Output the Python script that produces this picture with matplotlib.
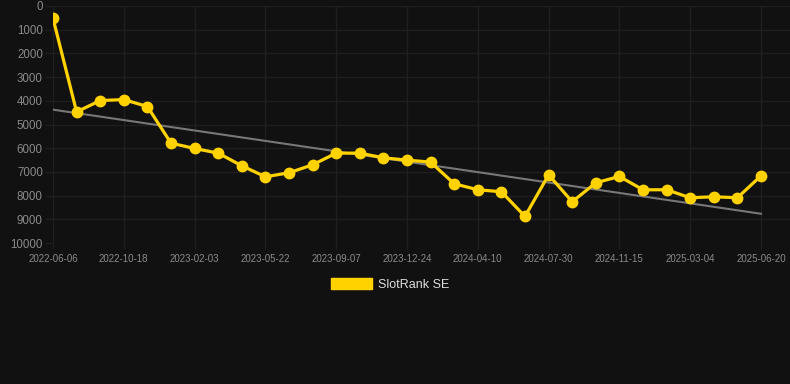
import numpy as np
import matplotlib
matplotlib.use("Agg")
import matplotlib.pyplot as plt
from matplotlib.patches import Patch

plt.rcParams['font.family'] = ['Liberation Sans', 'DejaVu Sans']

tick_labels = ["2022-06-06", "2022-10-18", "2023-02-03", "2023-05-22", "2023-09-07",
               "2023-12-24", "2024-04-10", "2024-07-30", "2024-11-15", "2025-03-04",
               "2025-06-20"]
ranks = [520, 4467, 3990, 3948, 4243, 5786, 6012, 6208, 6742, 7206,
         7037, 6700, 6208, 6208, 6405, 6503, 6587, 7501, 7754, 7838,
         8879, 7122, 8260, 7459, 7192, 7754, 7754, 8091, 8049, 8091, 7164]
series_name = "SlotRank SE"

BG = "#111111"
GRID = "#1f1f1f"
GOLD = "#ffd200"

W, H = 790, 384
fig = plt.figure(figsize=(W / 100, H / 100), dpi=100, facecolor=BG)
ax = fig.add_axes([53 / W, 1 - 243 / H, (W - 53) / W, (243 - 6) / H], facecolor=BG)

x = np.arange(len(ranks))
# trend line (least squares)
k, b = np.polyfit(x, ranks, 1)
ax.plot([x[0], x[-1]], [k * x[0] + b, k * x[-1] + b], color="#777777", lw=1.5, zorder=2)
ax.plot(x, ranks, color=GOLD, lw=2.3, marker="o", markersize=7.5,
        markerfacecolor=GOLD, markeredgecolor=GOLD, zorder=3)

ax.set_ylim(10000, 0)
ax.set_yticks(np.arange(0, 10001, 1000))
ax.set_xlim(0, (len(ranks) - 1) * (W - 53) / (761 - 53))
ax.set_xticks(x[::3])
ax.set_xticklabels(tick_labels)

ax.grid(True, color=GRID, lw=1.0)
ax.set_axisbelow(True)
for s in ax.spines.values():
    s.set_visible(False)

ax.tick_params(axis="y", colors=GRID, length=5.8, width=1.0, pad=1.5,
               labelcolor="#8a8a8a", labelsize=8.3)
ax.tick_params(axis="x", colors=GRID, length=4, width=1.0, pad=4,
               labelcolor="#8a8a8a", labelsize=7)

handle = Patch(facecolor=GOLD, edgecolor=GOLD)
leg = fig.legend([handle], [series_name], loc="center",
                 bbox_to_anchor=(390 / W, 1 - 284.5 / H),
                 frameon=False, fontsize=9, handlelength=3.3, handleheight=1.0,
                 handletextpad=0.5, labelcolor="#dddddd")

fig.savefig("out.png", dpi=100, facecolor=BG)
